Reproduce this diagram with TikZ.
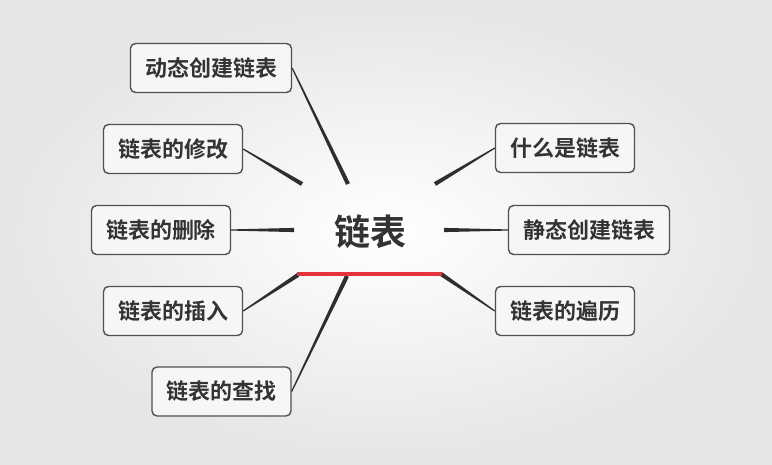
\documentclass[tikz,border=0pt]{standalone}
\usepackage{fontspec}
\newfontfamily\cjk{Noto Sans CJK SC}[BoldFont={Noto Sans CJK SC Bold}]
\usetikzlibrary{calc}
\definecolor{boxline}{HTML}{505050}
\definecolor{boxfill}{HTML}{F6F6F6}
\definecolor{txt}{HTML}{333333}
\definecolor{conn}{HTML}{2E2E2E}
\definecolor{redline}{HTML}{E5333D}
\tikzset{
  topic/.style={draw=boxline, line width=1.4pt, fill=boxfill, rounded corners=5pt,
    minimum height=49pt, inner xsep=14.5pt, inner ysep=0pt, text=txt,
    font=\cjk\bfseries\fontsize{22}{24}\selectfont},
  central/.style={text=txt, inner sep=0pt, font=\cjk\bfseries\fontsize{36}{38}\selectfont},
  underline/.style={draw=redline, line width=4pt},
}
\newcommand{\taper}[2]{%
  \fill[conn] ($(#1)!0.6pt!90:(#2)$) -- ($(#2)!2.1pt!-90:(#1)$) -- ($(#2)!2.1pt!90:(#1)$) -- ($(#1)!0.6pt!-90:(#2)$) -- cycle;}
\begin{document}
\begin{tikzpicture}[x=1pt,y=-1pt]
\useasboundingbox (0,0) rectangle (772,464);
\shade[inner color=white, outer color=black!10] (0,0) rectangle (772,464);

\node[central] (root) at (370,232) {链表};

\node[topic] (n1) at (211,68) {动态创建链表};
\node[topic] (n2) at (173,149) {链表的修改};
\node[topic] (n3) at (161,230) {链表的删除};
\node[topic] (n4) at (173,311) {链表的插入};
\node[topic] (n5) at (221.5,391.5) {链表的查找};
\node[topic] (n6) at (565,148) {什么是链表};
\node[topic] (n7) at (589,230) {静态创建链表};
\node[topic] (n8) at (565,311) {链表的遍历};

\coordinate (c1) at (348,184);
\coordinate (c2) at (302,184);
\coordinate (c3) at (294,230);
\coordinate (c4) at (298,275);
\coordinate (c5) at (347,276);
\coordinate (c6) at (435,184);
\coordinate (c7) at (444,230);
\coordinate (c8) at (441,274);
\coordinate (u1) at (297,274);
\coordinate (u2) at (442,274);

\taper{n1.east}{c1}
\taper{n2.east}{c2}
\taper{n3.east}{c3}
\taper{n4.east}{c4}
\taper{n5.east}{c5}
\taper{n6.west}{c6}
\taper{n7.west}{c7}
\taper{n8.west}{c8}

\draw[underline] (u1) -- (u2);
\end{tikzpicture}
\end{document}
